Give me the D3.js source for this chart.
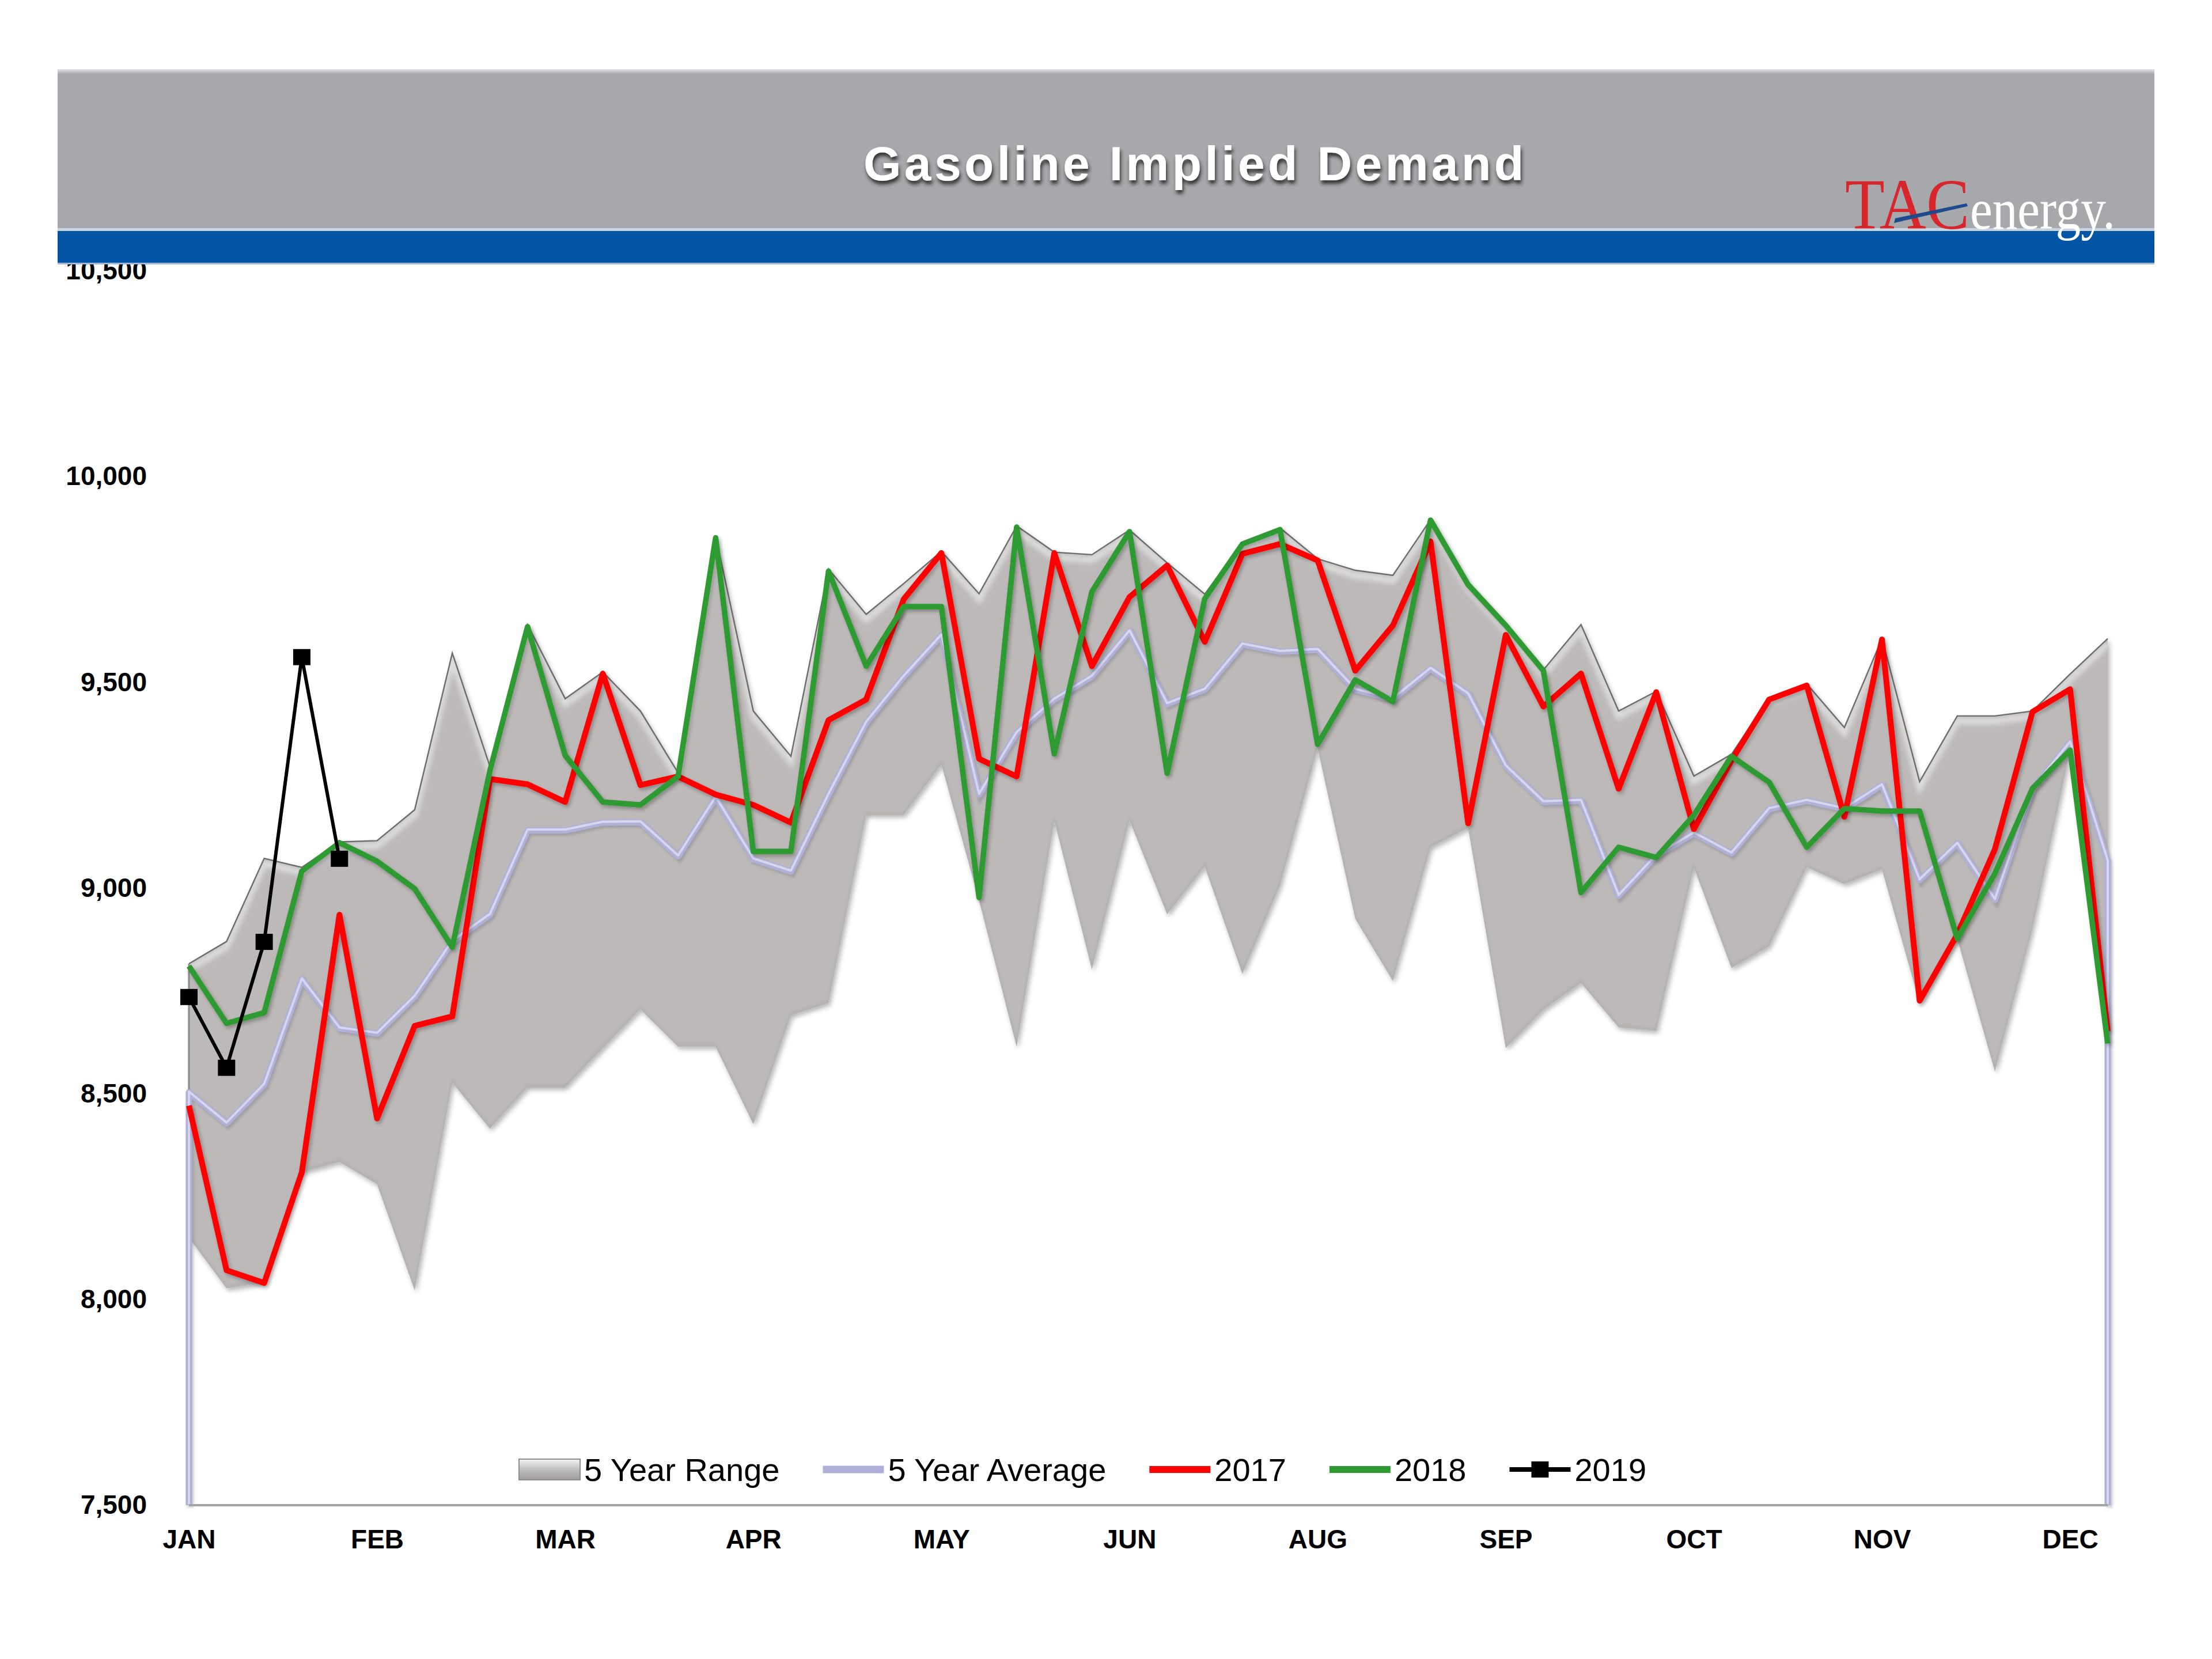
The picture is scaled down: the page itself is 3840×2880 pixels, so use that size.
<!DOCTYPE html>
<html><head><meta charset="utf-8">
<script src="https://cdn.jsdelivr.net/npm/d3@7"></script>
<style>html,body{margin:0;padding:0;background:#fff;} svg{display:block}</style>
</head><body>
<svg id="chart" width="3840" height="2880"></svg>
<script>
// ---------------- DATA ----------------
const title = "Gasoline Implied Demand";
const weeks = d3.range(1, 53); // 52 weekly categories
const monthLabels = ["JAN","FEB","MAR","APR","MAY","JUN","AUG","SEP","OCT","NOV","DEC"];
const monthTickWeeks = [1, 6, 11, 16, 21, 26, 31, 36, 41, 46, 51];
const yTicks = [7500, 8000, 8500, 9000, 9500, 10000, 10500];
const legendLabels = ["5 Year Range", "5 Year Average", "2017", "2018", "2019"];

const range5High = [8816,8870,9072,9050,9112,9115,9190,9571,9295,9640,
                    9460,9525,9430,9280,9855,9430,9320,9775,9665,9740,
                    9818,9715,9880,9816,9810,9870,9790,9714,9840,9875,
                    9800,9772,9760,9895,9740,9640,9530,9640,9430,9478,
                    9272,9325,9462,9496,9390,9606,9258,9418,9418,9430,
                    9520,9606];
const range5Low  = [8150,8027,8040,8309,8334,8280,8022,8527,8415,8515,
                    8515,8610,8705,8614,8614,8426,8690,8720,9177,9177,
                    9300,8970,8614,9164,8802,9164,8936,9052,8791,9006,
                    9340,8925,8774,9098,9146,8611,8704,8769,8661,8652,
                    9050,8805,8858,9050,9009,9045,8720,8877,8554,8900,
                    9335,8620];
const avg5       = [8503,8428,8522,8778,8659,8646,8736,8870,8935,9140,
                    9140,9159,9160,9077,9220,9070,9040,9227,9402,9514,
                    9614,9227,9377,9458,9514,9624,9447,9482,9592,9574,
                    9579,9482,9459,9533,9471,9296,9209,9212,8981,9079,
                    9133,9084,9192,9212,9192,9250,9019,9108,8971,9241,
                    9354,9065];
const y2017      = [8471,8071,8040,8309,8935,8440,8665,8688,9265,9252,
                    9209,9521,9250,9271,9227,9202,9159,9408,9458,9702,
                    9814,9314,9271,9814,9539,9707,9784,9598,9812,9836,
                    9796,9528,9638,9842,9157,9615,9441,9521,9241,9476,
                    9143,9310,9458,9492,9173,9604,8726,8887,9094,9428,
                    9483,8652];
const y2018      = [8810,8671,8697,9041,9110,9065,8998,8856,9285,9635,
                    9322,9209,9202,9271,9851,9089,9089,9770,9539,9684,
                    9684,8977,9877,9326,9720,9866,9279,9703,9836,9871,
                    9349,9506,9453,9894,9737,9638,9528,8989,9099,9074,
                    9177,9320,9257,9099,9193,9187,9187,8877,9035,9242,
                    9335,8622];
const y2019      = [8735,8563,8869,9561,9071];

// ---------------- CHART ----------------
const svg = d3.select("#chart");
const defs = svg.append("defs");
const FONT = "'Liberation Sans', Arial, Helvetica, sans-serif";

function shadowFilter(id, dx, dy, sd, color, op) {
  const f = defs.append("filter").attr("id", id)
    .attr("x", "-10%").attr("y", "-10%").attr("width", "120%").attr("height", "130%");
  f.append("feDropShadow").attr("dx", dx).attr("dy", dy).attr("stdDeviation", sd)
    .attr("flood-color", color).attr("flood-opacity", op);
}
shadowFilter("lineShadow", 3, 4, 3, "#000", 0.28);
shadowFilter("areaShadow", 3, 4, 4, "#000", 0.30);
shadowFilter("titleShadow", 2, 6, 3, "#222", 0.9);
defs.append("filter").attr("id", "blur4").append("feGaussianBlur").attr("stdDeviation", 4);
defs.append("filter").attr("id", "blur2").append("feGaussianBlur").attr("stdDeviation", 2);

const x = d3.scalePoint().domain(weeks).range([328, 3659]);
const y = d3.scaleLinear().domain([7500, 10500]).range([2613, 470]);

// Y axis
const yAxis = svg.append("g").attr("transform", `translate(${x(weeks[0])},0)`)
  .call(d3.axisLeft(y).tickValues(yTicks).tickFormat(d3.format(",")).tickSize(0).tickPadding(73));
yAxis.select(".domain").remove();
yAxis.attr("font-family", FONT).attr("font-size", 46).attr("font-weight", "bold");
yAxis.selectAll("text").attr("fill", "#000");

// 5 year range (stacked-area look)
const rangeData = weeks.map((w, i) => ({ w, hi: range5High[i], lo: range5Low[i] }));
const rangeArea = d3.area().x(d => x(d.w)).y0(d => y(d.lo)).y1(d => y(d.hi));
const hiLine = d3.line().x(d => x(d.w)).y(d => y(d.hi));
const loLine = d3.line().x(d => x(d.w)).y(d => y(d.lo));

defs.append("clipPath").attr("id", "rangeClip").append("path").attr("d", rangeArea(rangeData));

svg.append("path").attr("d", rangeArea(rangeData))
  .attr("fill", "#BDB9B9").attr("filter", "url(#areaShadow)");
const hl = svg.append("g").attr("clip-path", "url(#rangeClip)");
hl.append("path").attr("d", hiLine(rangeData)).attr("transform", "translate(0,9)")
  .attr("fill", "none").attr("stroke", "#ffffff").attr("stroke-width", 11)
  .attr("stroke-opacity", 0.5).attr("filter", "url(#blur4)");
hl.append("path").attr("d", loLine(rangeData)).attr("transform", "translate(0,-3)")
  .attr("fill", "none").attr("stroke", "#a9a6a6").attr("stroke-width", 4)
  .attr("stroke-opacity", 0.6).attr("filter", "url(#blur2)");
svg.append("path").attr("d", hiLine(rangeData))
  .attr("fill", "none").attr("stroke", "#6c6c6c").attr("stroke-width", 2.4);
svg.append("path")
  .attr("d", `M${x(weeks[0])},${y(range5High[0])}V${y(range5Low[0])}`)
  .attr("stroke", "#8a8a8a").attr("stroke-width", 3);

// 5 year average (outlined area)
const avgPts = [[x(weeks[0]), y(7500)]]
  .concat(weeks.map((w, i) => [x(w), y(avg5[i])]))
  .concat([[x(weeks[weeks.length - 1]), y(7500)]]);
const avgPath = d3.line()(avgPts);
svg.append("path").attr("d", avgPath).attr("transform", "translate(3,4)")
  .attr("fill", "none").attr("stroke", "#6c6c7c").attr("stroke-width", 11)
  .attr("stroke-opacity", 0.35).attr("filter", "url(#blur2)");
svg.append("path").attr("d", avgPath)
  .attr("fill", "none").attr("stroke", "#B0B0D8").attr("stroke-width", 11)
  .attr("stroke-linejoin", "round");
svg.append("path").attr("d", avgPath).attr("transform", "translate(0,-1.5)")
  .attr("fill", "none").attr("stroke", "#D6D6EE").attr("stroke-width", 4)
  .attr("stroke-linejoin", "round");

// Bottom axis line
const axY = y(7500);
svg.append("line").attr("x1", x(weeks[0])).attr("x2", x(weeks[weeks.length - 1]))
  .attr("y1", axY + 6).attr("y2", axY + 6).attr("stroke", "#bdbdbd").attr("stroke-width", 8)
  .attr("filter", "url(#blur4)");
svg.append("line").attr("x1", x(weeks[0])).attr("x2", x(weeks[weeks.length - 1]))
  .attr("y1", axY).attr("y2", axY).attr("stroke", "#a4a4a4").attr("stroke-width", 4);

// Year lines
const valLine = d3.line().x((d, i) => x(weeks[i])).y(d => y(d));
svg.append("path").attr("d", valLine(y2017)).attr("fill", "none")
  .attr("stroke", "#FF0000").attr("stroke-width", 10).attr("stroke-linejoin", "round")
  .attr("filter", "url(#lineShadow)");
svg.append("path").attr("d", valLine(y2018)).attr("fill", "none")
  .attr("stroke", "#2F9A31").attr("stroke-width", 9.5).attr("stroke-linejoin", "round")
  .attr("filter", "url(#lineShadow)");
svg.append("path").attr("d", valLine(y2019)).attr("fill", "none")
  .attr("stroke", "#000").attr("stroke-width", 6).attr("stroke-linejoin", "round");
svg.append("g").selectAll("rect").data(y2019).join("rect")
  .attr("x", (d, i) => x(weeks[i]) - 15).attr("y", d => y(d) - 14)
  .attr("width", 30).attr("height", 28).attr("fill", "#000");

// X axis labels
const xAxis = svg.append("g").attr("transform", `translate(0,${axY})`)
  .call(d3.axisBottom(x).tickValues(monthTickWeeks).tickFormat((d, i) => monthLabels[i])
    .tickSize(0).tickPadding(42));
xAxis.select(".domain").remove();
xAxis.attr("font-family", FONT).attr("font-size", 46).attr("font-weight", "bold");
xAxis.selectAll("text").attr("fill", "#000");

// Legend
const lg = svg.append("g").attr("font-family", FONT).attr("font-size", 56);
const legY = 2551;
const swW = 106, txtGap = 7, itemGap = 75;
const rg = defs.append("linearGradient").attr("id", "swGrad").attr("x1", 0).attr("y1", 0).attr("x2", 0).attr("y2", 1);
rg.append("stop").attr("offset", "0%").attr("stop-color", "#f4f4f4");
rg.append("stop").attr("offset", "45%").attr("stop-color", "#c4c2c2");
rg.append("stop").attr("offset", "100%").attr("stop-color", "#9e9c9c");
let lx = 901;
legendLabels.forEach((lab, k) => {
  const g = lg.append("g");
  if (k === 0) {
    g.append("rect").attr("x", lx).attr("y", legY - 18).attr("width", swW).attr("height", 36)
      .attr("fill", "url(#swGrad)").attr("stroke", "#8d8d8d").attr("stroke-width", 2);
  } else {
    const col = ["#B0B0D8", "#FF0000", "#2F9A31", "#000"][k - 1];
    const sw = [13, 12, 12, 8][k - 1];
    g.append("line").attr("x1", lx).attr("x2", lx + swW).attr("y1", legY).attr("y2", legY)
      .attr("stroke", col).attr("stroke-width", sw);
    if (k === 4) {
      g.append("rect").attr("x", lx + swW / 2 - 15).attr("y", legY - 14)
        .attr("width", 30).attr("height", 28).attr("fill", "#000");
    }
  }
  const t = g.append("text").attr("x", lx + swW + txtGap).attr("y", legY + 20)
    .attr("fill", "#000").text(lab);
  lx = lx + swW + txtGap + t.node().getComputedTextLength() + itemGap;
});

// Header (drawn last, covers top of 10,500 label)
const hg = defs.append("linearGradient").attr("id", "hdrGrad").attr("x1", 0).attr("y1", 0).attr("x2", 0).attr("y2", 1);
hg.append("stop").attr("offset", "0%").attr("stop-color", "#e4e4e6");
hg.append("stop").attr("offset", "3%").attr("stop-color", "#A8A9AC");
hg.append("stop").attr("offset", "100%").attr("stop-color", "#A7A8AB");
svg.append("rect").attr("x", 100).attr("y", 120).attr("width", 3640).attr("height", 279)
  .attr("fill", "url(#hdrGrad)");
svg.append("rect").attr("x", 100).attr("y", 399).attr("width", 3640).attr("height", 59)
  .attr("fill", "#0254A4");
svg.append("rect").attr("x", 100).attr("y", 396).attr("width", 3640).attr("height", 5)
  .attr("fill", "#c9d3df");
svg.append("rect").attr("x", 100).attr("y", 456).attr("width", 3640).attr("height", 3)
  .attr("fill", "#9fb7d6");

svg.append("text").attr("x", 2072).attr("y", 313).attr("text-anchor", "middle")
  .attr("font-family", FONT).attr("font-weight", "bold").attr("font-size", 84)
  .attr("textLength", 1146).attr("lengthAdjust", "spacing")
  .attr("fill", "#ffffff").attr("filter", "url(#titleShadow)").text(title);

// Logo
const SERIF = "'Liberation Serif', 'Times New Roman', serif";
svg.append("text").attr("x", 3203).attr("y", 397).attr("font-family", SERIF)
  .attr("font-size", 124).attr("textLength", 216).attr("lengthAdjust", "spacingAndGlyphs")
  .attr("fill", "#D8262D").text("TAC");
svg.append("path").attr("d", "M3288,387 L3290,379 L3414,353 L3416,358 Z").attr("fill", "#1f4a8c");
svg.append("text").attr("x", 3420).attr("y", 397).attr("font-family", SERIF)
  .attr("font-size", 100).attr("textLength", 252).attr("lengthAdjust", "spacingAndGlyphs")
  .attr("fill", "#ffffff").text("energy.");
</script>
</body></html>
